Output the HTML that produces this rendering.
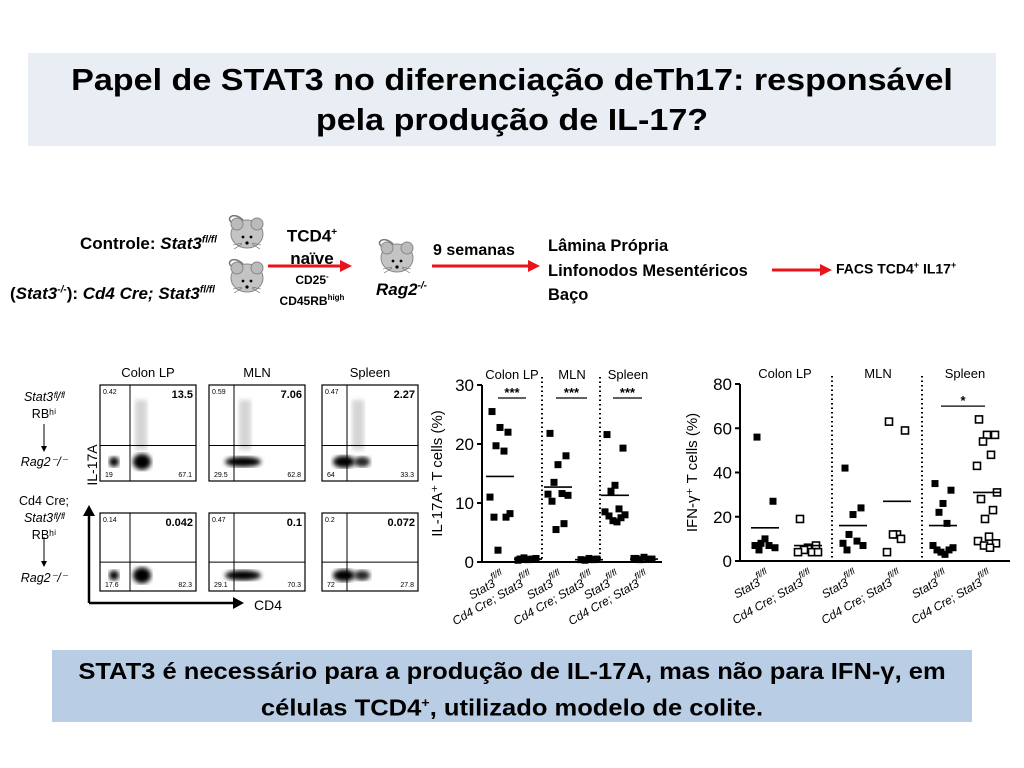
<!DOCTYPE html>
<html><head><meta charset="utf-8">
<style>
body{margin:0;width:1024px;height:768px;background:#fff;position:relative;overflow:hidden;font-family:"Liberation Sans",sans-serif}
.a{position:absolute}
.cal{font-family:"Liberation Sans",sans-serif;font-weight:bold;font-size:16px;color:#000;white-space:nowrap}
</style></head><body>
<div class="a" style="left:28px;top:53px;width:968px;height:93px;background:#e9eef5"></div>
<div class="a" style="left:28px;top:60px;width:968px;text-align:center;font-weight:bold;font-size:31px;line-height:40px;transform:scaleX(1.1);transform-origin:center">Papel de STAT3 no diferenciação deTh17: responsável<br>pela produção de IL-17?</div>

<div class="a cal" style="left:80px;top:234px;font-size:17px">Controle: <i>Stat3<sup style="font-size:10px">fl/fl</sup></i></div>
<div class="a cal" style="left:10px;top:284px;font-size:17px">(<i>Stat3<sup style="font-size:10px">-/-</sup></i>): <i>Cd4 Cre; Stat3<sup style="font-size:10px">fl/fl</sup></i></div>
<div class="a cal" style="left:272px;top:222px;width:80px;text-align:center;line-height:22px;font-size:17px">TCD4<sup style="font-size:10px">+</sup><br>naïve</div>
<div class="a cal" style="left:272px;top:268px;width:80px;text-align:center;font-size:12px;line-height:17px">CD25<sup style="font-size:8px">-</sup><br>CD45RB<sup style="font-size:8px">high</sup></div>
<div class="a cal" style="left:376px;top:280px;font-size:17px"><i>Rag2<sup style="font-size:10px">-/-</sup></i></div>
<div class="a cal" style="left:433px;top:242px">9 semanas</div>
<div class="a cal" style="left:548px;top:234px;line-height:24.5px;font-size:16.5px">Lâmina Própria<br>Linfonodos Mesentéricos<br>Baço</div>
<div class="a cal" style="left:836px;top:260px;font-size:14px">FACS TCD4<sup style="font-size:9px">+</sup> IL17<sup style="font-size:9px">+</sup></div>

<svg class="a" style="left:0;top:0" width="1024" height="768">
<defs>
<g id="mouse"><path d="M-4,-14 C-14,-24 -24,-14 -12,-10" stroke="#777" fill="none" stroke-width="1.5"/><ellipse cx="0" cy="0" rx="16" ry="14" fill="#c4c4c4" stroke="#888"/><circle cx="-10" cy="-10" r="6" fill="#bbb" stroke="#888"/><circle cx="10" cy="-10" r="6" fill="#bbb" stroke="#888"/><circle cx="-4" cy="3" r="1.4"/><circle cx="4" cy="3" r="1.4"/><circle cx="0" cy="9" r="1.6"/><path d="M-5,9 l-9,2 M-5,10 l-8,5 M5,9 l9,2 M5,10 l8,5" stroke="#666" stroke-width=".6"/></g>
<filter id="bl"><feGaussianBlur stdDeviation="2.5"/></filter>
</defs>
<use href="#mouse" x="247" y="234"/>
<use href="#mouse" x="247" y="278"/>
<use href="#mouse" x="397" y="258"/>
<g stroke="#e8141b" stroke-width="3" fill="#e8141b">
<line x1="268" y1="266" x2="342" y2="266"/><path d="M352,266 l-12,-6 v12z" stroke="none"/>
<line x1="432" y1="266" x2="530" y2="266"/><path d="M540,266 l-12,-6 v12z" stroke="none"/>
<line x1="772" y1="270" x2="822" y2="270"/><path d="M832,270 l-12,-6 v12z" stroke="none"/>
</g>
<g id="facs" font-family="Liberation Sans" ></g>
</svg>

<svg class="a" style="left:0;top:0" width="1024" height="768" id="charts" font-family="Liberation Sans"></svg>

<div class="a" style="left:52px;top:650px;width:920px;height:72px;background:#b9cde5"></div>
<div class="a" style="left:52px;top:655px;width:920px;text-align:center;font-weight:bold;font-size:23px;line-height:32px;transform:scaleX(1.11);transform-origin:center">STAT3 é necessário para a produção de IL-17A, mas não para IFN-γ, em<br>células TCD4<sup style="font-size:13px">+</sup>, utilizado modelo de colite.</div>

<script>
const NS='http://www.w3.org/2000/svg';
function mk(p,t,a,txt){const e=document.createElementNS(NS,t);for(const k in a)e.setAttribute(k,a[k]);if(txt!==undefined)e.textContent=txt;p.appendChild(e);return e;}

// FACS
const facsCols=['Colon LP','MLN','Spleen'];
const facsTR=[['13.5','7.06','2.27'],['0.042','0.1','0.072']];
const facsTL=[['0.42','0.59','0.47'],['0.14','0.47','0.2']];
const facsBL=[['19','29.5','64'],['17.6','29.1','72']];
const facsBR=[['67.1','62.8','33.3'],['82.3','70.3','27.8']];
const fg=document.getElementById('facs');
const px=[100,209,322],py=[385,513],pw=96,phs=[96,78];
facsCols.forEach((c,i)=>{const t=mk(fg,'text',{x:px[i]+pw/2,y:377,'text-anchor':'middle','font-size':13},c);
});
for(let r=0;r<2;r++)for(let i=0;i<3;i++){
 const x=px[i],y=py[r],ph=phs[r];const g=mk(fg,'g',{});
 
 mk(g,'rect',{x:x,y:y,width:pw,height:ph,fill:'#fff',stroke:'#000','stroke-width':1.2});
 const vx=x+(i==0?30:25),hy=y+ph*0.63;
 const cy=y+ph*0.8;
 if(i==0){mk(g,'ellipse',{cx:x+14,cy:cy,rx:5,ry:5,fill:'#000',filter:'url(#bl)'});mk(g,'ellipse',{cx:x+42,cy:cy,rx:9,ry:8,fill:'#000',filter:'url(#bl)'});}
 else if(i==1){mk(g,'ellipse',{cx:x+34,cy:cy,rx:18,ry:5,fill:'#000',filter:'url(#bl)'});}
 else {mk(g,'ellipse',{cx:x+22,cy:cy,rx:11,ry:6,fill:'#000',filter:'url(#bl)'});mk(g,'ellipse',{cx:x+40,cy:cy,rx:8,ry:5,fill:'#222',filter:'url(#bl)'});}
 if(r==0){mk(g,'rect',{x:vx+5,y:y+15,width:12,height:50,fill:'#aaa',opacity:0.5,filter:'url(#bl)'});}
 mk(g,'line',{x1:vx,y1:y,x2:vx,y2:y+ph,stroke:'#000','stroke-width':1});
 mk(g,'line',{x1:x,y1:hy,x2:x+pw,y2:hy,stroke:'#000','stroke-width':1});
 mk(g,'text',{x:x+pw-3,y:y+13,'text-anchor':'end','font-size':11,'font-weight':'bold'},facsTR[r][i]);
 mk(g,'text',{x:x+3,y:y+9,'font-size':7},facsTL[r][i]);
 mk(g,'text',{x:x+5,y:y+ph-4,'font-size':7},facsBL[r][i]);
 mk(g,'text',{x:x+pw-4,y:y+ph-4,'text-anchor':'end','font-size':7},facsBR[r][i]);
}
const ax=mk(fg,'g',{});
mk(ax,'path',{d:'M89,603 V515 M89,603 H233',stroke:'#000','stroke-width':2.5,fill:'none'});
mk(ax,'path',{d:'M89,505 l-6,11 h12z M244,603 l-11,-6 v12z',fill:'#000'});
mk(ax,'text',{x:97,y:465,'font-size':14,'text-anchor':'middle',transform:'rotate(-90 97 465)'},'IL-17A');
mk(ax,'text',{x:254,y:610,'font-size':14},'CD4');
function rowLab(y,lines){const g=mk(fg,'g',{});
 lines.forEach((l,k)=>{mk(g,'text',{x:44,y:y+k*17,'text-anchor':'middle','font-size':12.5,'font-style':l[1]?'italic':'normal'},l[0]);});}
rowLab(401,[['Stat3ᶠˡ/ᶠˡ',1],['RBʰⁱ',0]]);
rowLab(466,[['Rag2⁻/⁻',1]]);
rowLab(505,[['Cd4 Cre;',0],['Stat3ᶠˡ/ᶠˡ',1],['RBʰⁱ',0]]);
rowLab(582,[['Rag2⁻/⁻',1]]);
mk(fg,'path',{d:'M44,424 V448 M44,537 V563',stroke:'#000','stroke-width':1});
mk(fg,'path',{d:'M44,452 l-3,-6 h6z M44,567 l-3,-6 h6z',fill:'#000'});

// Charts
const groups=['Colon LP','MLN','Spleen'];
const catLabels=['Stat3','Cd4 Cre; Stat3'];
// IL-17A data
const il17Stat3=[[25.5,22,22.8,19.7,18.8,11,8.2,7.6,7.6,2],[21.8,18,16.5,13.5,11.6,11.5,11.3,10.3,6.5,5.5],[21.6,19.3,13,12,9,8.5,8,7.8,7.5,7,6.8]];
const il17Cd4=[[0.5,0.6,0.4,0.7,0.5,0.3],[0.4,0.5,0.6,0.3,0.4],[0.6,0.5,0.8,0.4,0.5,0.6]];
const il17Mean=[[14.5,0.5],[12.7,0.4],[11.3,0.5]];
const il17Ticks=[0,10,20,30];
const il17Sig=['***','***','***'];
// IFN-γ data
const ifnStat3=[[56,27,10,8,7,7,6,5],[42,24,21,12,9,8,7,5],[35,32,26,22,17,7,6,5,5,4,3]];
const ifnCd4=[[19,7,6,5,4,4,4],[63,59,12,12,10,4],[64,57,57,54,48,43,31,28,23,19,11,9,8,7,6]];
const ifnMean=[[15,7],[16,27],[16,31]];
const ifnTicks=[0,20,40,60,80];
const ifnSig=['','','*'];

const jit=[-8,8,0,-4,4,-10,10,-6,6,-2,2,-9,9,-3,3];
const C=document.getElementById('charts');
function chart(o){
 const g=mk(C,'g',{});
 const y=v=>o.y0-(v/o.max)*(o.y0-o.y1);
 mk(g,'line',{x1:o.ax,y1:o.y0,x2:o.ax,y2:y(o.max),stroke:'#000','stroke-width':2});
 mk(g,'line',{x1:o.ax,y1:o.y0,x2:o.xe,y2:o.y0,stroke:'#000','stroke-width':2});
 o.ticks.forEach(t=>{mk(g,'line',{x1:o.ax-5,y1:y(t),x2:o.ax,y2:y(t),stroke:'#000','stroke-width':2});
  const tl=mk(g,'text',{x:o.ax-8,y:y(t)+6,'text-anchor':'end','font-size':17},t);});
 const yt=mk(g,'text',{x:o.ytx,y:(o.y0+o.y1)/2,'text-anchor':'middle','font-size':15,transform:`rotate(-90 ${o.ytx} ${(o.y0+o.y1)/2})`},o.ytitle);
 
 o.divs.forEach(d=>mk(g,'line',{x1:d,y1:y(o.max)-8,x2:d,y2:o.y0,stroke:'#000','stroke-width':2,'stroke-dasharray':'1.5 3'}));
 groups.forEach((gn,i)=>{
  const gt=mk(g,'text',{x:o.gx[i],y:o.y1-6,'text-anchor':'middle','font-size':13},gn);
  [[o.s3[i],o.xs[i][0],true],[o.cd[i],o.xs[i][1],o.cdFill]].forEach(([vals,cx,fill],j)=>{
   vals.forEach((v,k)=>{const dx=jit[k%jit.length];
    const p=mk(g,'rect',{x:cx+dx-3.5,y:y(v)-3.5,width:7,height:7,fill:fill?'#000':'#fff',stroke:'#000','stroke-width':fill?0:1.6});
    });
   mk(g,'line',{x1:cx-14,y1:y(o.mean[i][j]),x2:cx+14,y2:y(o.mean[i][j]),stroke:'#000','stroke-width':1.6});
   const lab=mk(g,'text',{x:cx+6,y:o.y0+18,'text-anchor':'end','font-size':12,'font-style':'italic',transform:`rotate(-30 ${cx+6} ${o.y0+18})`},catLabels[j]);
   mk(lab,'tspan',{dy:-7,'font-size':9},'fl/fl');
   
  });
  if(o.sig[i]){mk(g,'line',{x1:o.xs[i][0]-2,y1:y(o.sigY),x2:o.xs[i][1]-2,y2:y(o.sigY),stroke:'#000','stroke-width':1.3});
   mk(g,'text',{x:(o.xs[i][0]+o.xs[i][1])/2-2,y:y(o.sigY)-1,'text-anchor':'middle','font-size':13,'font-weight':'bold'},o.sig[i]);}
 });
}
chart({name:'il17a-chart',ax:482,xe:662,y0:562,y1:385,max:30,ticks:il17Ticks,ytx:442,ytitle:'IL-17A⁺ T cells (%)',divs:[542,600],gx:[512,572,628],
 xs:[[500,528],[558,589],[615,644]],s3:il17Stat3,cd:il17Cd4,cdFill:true,mean:il17Mean,sig:il17Sig,sigY:27.8});
chart({name:'ifng-chart',ax:740,xe:1010,y0:561,y1:384,max:80,ticks:ifnTicks,ytx:697,ytitle:'IFN-γ⁺ T cells (%)',divs:[832,922],gx:[785,878,965],
 xs:[[765,808],[853,897],[943,987]],s3:ifnStat3,cd:ifnCd4,cdFill:false,mean:ifnMean,sig:ifnSig,sigY:70});
</script>
</body></html>
